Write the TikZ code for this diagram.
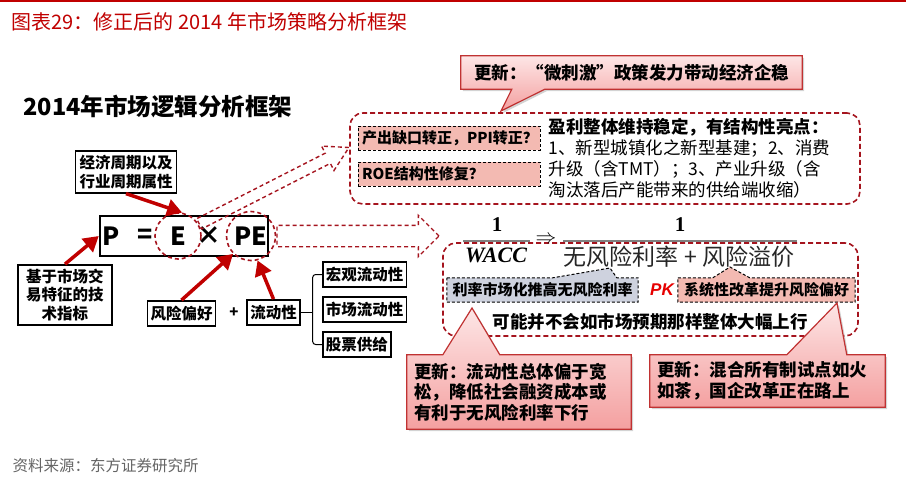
\documentclass[tikz,border=0pt]{standalone}
\usepackage{fontspec}
\setmainfont{Noto Sans CJK SC}
\newfontfamily\serifnum{Liberation Serif}
\newfontfamily\latsans{Liberation Sans}
\usepackage{tikz}
\usetikzlibrary{arrows.meta,shapes.arrows,shadows,calc}
\pgfdeclarelayer{back}
\pgfdeclarelayer{mid}
\pgfsetlayers{back,mid,main}

\definecolor{titlered}{RGB}{192,0,0}
\definecolor{dashred}{RGB}{165,20,30}
\definecolor{arrowred}{RGB}{192,0,0}
\definecolor{pkred}{RGB}{230,0,0}
\definecolor{tagpink}{RGB}{243,186,178}
\definecolor{taggray}{RGB}{206,210,222}
\definecolor{updtop}{RGB}{253,230,230}
\definecolor{updbot}{RGB}{244,160,160}
\definecolor{updline}{RGB}{192,50,50}
\definecolor{srcgray}{RGB}{100,100,100}

\newcommand{\fsz}[2]{\fontsize{#1}{#2}\selectfont}

\tikzstyle{lbl} = [draw, line width=1.8pt, fill=white, inner xsep=3pt, inner ysep=4pt, minimum height=25pt, font=\fsz{15.5}{18.5}\bfseries, align=center]
\tikzstyle{tagbox} = [inner xsep=4pt, minimum height=24pt, font=\fsz{15}{18}\bfseries]
\tikzstyle{tagline} = [draw, line width=1pt, dash pattern=on 3pt off 2pt]
\tikzstyle{dashbox} = [draw=dashred, line width=1.6pt, dash pattern=on 5pt off 3pt, rounded corners=13pt]
\tikzstyle{dashcircle} = [draw=dashred, line width=1.6pt, dash pattern=on 4pt off 3pt, circle]
\tikzstyle{hollow} = [single arrow, draw=dashred, line width=1.4pt, dash pattern=on 4pt off 3pt, inner xsep=0pt, anchor=tail]
\tikzstyle{redline} = [draw=arrowred, line width=3.5pt, -{Triangle[length=15pt,width=17pt]}]
\tikzstyle{fracbar} = [draw=black!50, line width=2pt]
\tikzstyle{updtext} = [font=\fsz{17.5}{20.5}\bfseries, align=left]
\tikzstyle{updshape} = [draw=updline, line width=1.2pt, top color=updtop, bottom color=updbot, drop shadow={opacity=0.35,shadow xshift=2pt,shadow yshift=-2pt}]

\begin{document}
\begin{tikzpicture}[x=1pt,y=-1pt]
    \useasboundingbox (0,0) rectangle (906,480);

    % header
    \draw[titlered, line width=2.5pt] (0,1) -- (906,1);
    \node[anchor=west, text=titlered, font=\fsz{20}{24}] (title) at (8,22) {图表29：修正后的 2014 年市场策略分析框架};
    \node[anchor=west, font=\fsz{23.5}{28}\bfseries] (heading) at (20,107) {2014年市场逻辑分析框架};

    % P = E x PE
    \node[draw, line width=2.5pt, minimum width=168pt, minimum height=40pt] (pebox) at (184,236) {};
    \node[font=\fsz{25}{30}\bfseries] (P) at (111,236) {P};
    \node[font=\fsz{25}{30}\bfseries] (eq) at (145,236) {=};
    \node[font=\fsz{25}{30}\bfseries] (E) at (178,236) {E};
    \node[font=\fsz{25}{30}\bfseries] (times) at (209,236) {×};
    \node[font=\fsz{25}{30}\bfseries] (PE) at (251,236) {PE};
    \node[dashcircle, minimum size=46pt] (Ec) at (178,236) {};
    \node[dashcircle, minimum size=49pt] (PEc) at (251,236) {};

    \node[lbl, inner xsep=4pt] (cyc) at (126,172) {经济周期以及\\行业周期属性};
    \node[lbl, inner xsep=8pt] (tech) at (65,295) {基于市场交\\易特征的技\\术指标};
    \node[lbl] (risk) at (181.5,313.5) {风险偏好};
    \node[font=\fsz{15}{18}\bfseries] (plus) at (234,313) {+};
    \node[lbl] (liq) at (273.5,312.5) {流动性};
    \node[lbl, anchor=west] (macro) at (322,274.5) {宏观流动性};
    \node[lbl, anchor=west] (mkt) at (322,309.5) {市场流动性};
    \node[lbl, anchor=west] (stock) at (322,344.5) {股票供给};

    \draw[line width=1pt, rounded corners=3pt] (macro.west) -| ($(liq.east)+(12,0)$) |- (stock.west);
    \draw[line width=1pt] (liq.east) -- ++(12,0);

    \draw[redline] (cyc.south) -- (Ec.80);
    \draw[redline] (tech.north) -- (pebox.west);
    \draw[redline] (risk.north) -- (PEc.225);
    \draw[redline] (liq.north) -- (PEc.285);

    \node[hollow, inner ysep=5pt, single arrow head extend=8pt, single arrow tip angle=60, minimum height=168pt, rotate=27] (arrE) at (Ec.30) {};
    \node[hollow, inner ysep=10pt, single arrow head extend=10pt, single arrow tip angle=90, minimum height=162pt] (arrPE) at (PEc.east) {};

    % earnings box
    \begin{pgfonlayer}{back}
    \node[dashbox, minimum width=510pt, minimum height=91pt] (earnbox) at (605,158.5) {};
    \node[dashbox, minimum width=415pt, minimum height=93pt] (ratebox) at (650.5,289.5) {};
    \end{pgfonlayer}
    \node[tagbox, tagline, fill=tagpink, text width=174pt, align=left] (gap) at (449,138) {产出缺口转正，PPI转正？};
    \node[tagbox, tagline, fill=tagpink, text width=174pt, align=left] (roe) at (449,174) {ROE结构性修复？};
    \node[anchor=west, align=left, font=\fsz{17.5}{21}] (earn) at (545,158.5) {\textbf{盈利整体维持稳定，有结构性亮点：}\\1、新型城镇化之新型基建；2、消费\\升级（含TMT）；3、产业升级（含\\淘汰落后产能带来的供给端收缩）};

    % discount rate
    \node[font=\serifnum\bfseries\fsz{21}{24}] (num1) at (497,225) {1};
    \node[font=\serifnum\bfseries\itshape\fsz{22}{26}] (wacc) at (496,255) {WACC};
    \node[font=\fsz{20}{24}] (imp) at (546,240) {$\Rightarrow$};
    \node[font=\serifnum\bfseries\fsz{21}{24}] (num2) at (680,225) {1};
    \node[font=\fsz{23}{27}, text=black!85] (den) at (679,257) {无风险利率 + 风险溢价};
    \draw[fracbar] (463,241) -- (530,241);
    \draw[fracbar] (563,241) -- (797,241);

    \node[tagbox, minimum width=191pt] (rategray) at (542.5,290) {利率市场化推高无风险利率};
    \node[text=pkred, font=\latsans\bfseries\itshape\fsz{17}{20}] (pk) at (662,290) {PK};
    \node[tagbox, minimum width=177pt] (reform) at (766.5,290) {系统性改革提升风险偏好};
    \node[font=\fsz{17.5}{21}\bfseries] (verdict) at (650,322) {可能并不会如市场预期那样整体大幅上行};

    % updates
    \node[updtext, minimum width=341pt, minimum height=33pt] (upd1) at (631.5,72.5) {更新：“微刺激”政策发力带动经济企稳};
    \node[updtext, text width=210pt, inner xsep=7pt, minimum height=74pt] (upd2) at (519,392) {更新：流动性总体偏于宽\\松，降低社会融资成本或\\有利于无风险利率下行};
    \node[updtext, text width=221pt, inner xsep=7pt, minimum height=52pt] (upd3) at (767.5,381) {更新：混合所有制试点如火\\如茶，国企改革正在路上};

    \coordinate (tipG) at (610,268);
    \coordinate (tipR) at (730,267);
    \coordinate (tip1) at (501,111);
    \coordinate (tip2) at (472,308);
    \coordinate (tip3) at (837,303);
    \begin{pgfonlayer}{mid}
    \path[tagline, fill=taggray] (rategray.north west) -- ($(rategray.north west)+(106,0)$) -- (tipG) -- ($(rategray.north west)+(170,0)$) -- (rategray.north east) -- (rategray.south east) -- (rategray.south west) -- cycle;
    \path[tagline, fill=tagpink] (reform.north west) -- ($(reform.north west)+(35,0)$) -- (tipR) -- ($(reform.north west)+(72,0)$) -- (reform.north east) -- (reform.south east) -- (reform.south west) -- cycle;
    \path[updshape] (upd1.north west) -- (upd1.north east) -- (upd1.south east) -- ($(upd1.south west)+(84,0)$) -- (tip1) -- ($(upd1.south west)+(51,0)$) -- (upd1.south west) -- cycle;
    \path[updshape] (upd2.north west) -- ($(upd2.north west)+(36,0)$) -- (tip2) -- ($(upd2.north west)+(93,0)$) -- (upd2.north east) -- (upd2.south east) -- (upd2.south west) -- cycle;
    \path[updshape] (upd3.north west) -- ($(upd3.north west)+(137,0)$) -- (tip3) -- ($(upd3.north west)+(197,0)$) -- (upd3.north east) -- (upd3.south east) -- (upd3.south west) -- cycle;
    \end{pgfonlayer}

    \node[anchor=west, text=srcgray, font=\fsz{15.5}{18}] (src) at (9,466) {资料来源：东方证券研究所};
\end{tikzpicture}
\end{document}
